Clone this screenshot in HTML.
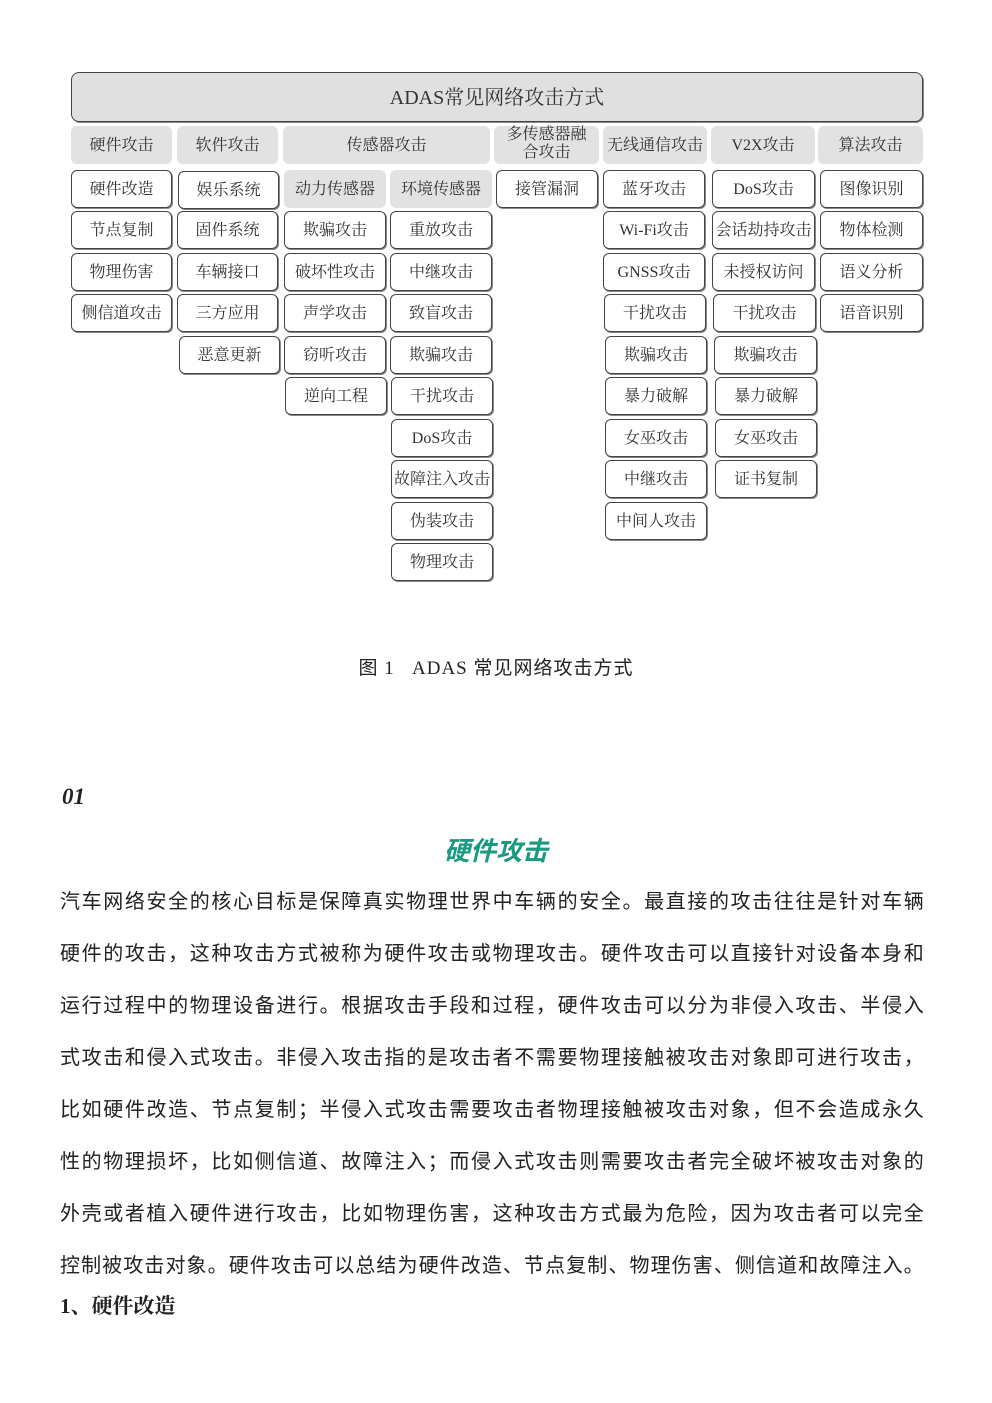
<!DOCTYPE html>
<html><head><meta charset="utf-8"><style>
body{margin:0;width:992px;height:1403px;background:#fff;position:relative;font-family:"Liberation Serif","Noto Serif CJK SC",serif;color:#333;overflow:hidden}
.n{position:absolute;box-sizing:border-box;height:38px;border:1.3px solid #444;border-radius:6px;background:#fff;font-size:16px;display:flex;align-items:center;justify-content:center;white-space:nowrap;color:#333;box-shadow:1px 1px 0 #888;padding-bottom:3px}
.g{background:#e2e2e2;border:none;box-shadow:none;border-radius:6px}
.t{position:absolute;left:60px;width:864px;font-family:"Liberation Sans","Noto Sans CJK SC",sans-serif;font-size:20px;text-align:justify;text-align-last:justify;white-space:nowrap;color:#222;letter-spacing:0.3px}
</style></head><body>
<div class="n" style="left:71px;top:72px;width:852px;height:50px;background:#e0e0e0;font-size:20px;border-radius:8px;padding-bottir:4px">ADAS常见网络攻击方式</div>
<div class="n g" style="left:71px;top:126px;width:101px">硬件攻击</div>
<div class="n g" style="left:177px;top:126px;width:101px">软件攻击</div>
<div class="n g" style="left:283px;top:126px;width:207px">传感器攻击</div>
<div class="n g" style="left:494px;top:126px;width:105px;line-height:18px;white-space:normal;text-align:center;padding:0 0 2px 0;flex-direction:column"><span>多传感器融</span><span>合攻击</span></div>
<div class="n g" style="left:603px;top:126px;width:104px">无线通信攻击</div>
<div class="n g" style="left:711px;top:126px;width:104px">V2X攻击</div>
<div class="n g" style="left:818px;top:126px;width:105px">算法攻击</div>

<div class="n" style="left:71px;top:170px;width:101px">硬件改造</div>
<div class="n" style="left:71px;top:211px;width:101px">节点复制</div>
<div class="n" style="left:71px;top:253px;width:101px">物理伤害</div>
<div class="n" style="left:71px;top:294px;width:101px">侧信道攻击</div>

<div class="n" style="left:178px;top:171px;width:101px">娱乐系统</div>
<div class="n" style="left:177px;top:211px;width:101px">固件系统</div>
<div class="n" style="left:177px;top:253px;width:101px">车辆接口</div>
<div class="n" style="left:177px;top:294px;width:101px">三方应用</div>
<div class="n" style="left:179px;top:336px;width:101px">恶意更新</div>

<div class="n g" style="left:284px;top:170px;width:102px">动力传感器</div>
<div class="n" style="left:284px;top:211px;width:102px">欺骗攻击</div>
<div class="n" style="left:284px;top:253px;width:102px">破坏性攻击</div>
<div class="n" style="left:284px;top:294px;width:102px">声学攻击</div>
<div class="n" style="left:284px;top:336px;width:102px">窃听攻击</div>
<div class="n" style="left:285px;top:377px;width:102px">逆向工程</div>

<div class="n g" style="left:390px;top:170px;width:102px">环境传感器</div>
<div class="n" style="left:390px;top:211px;width:102px">重放攻击</div>
<div class="n" style="left:390px;top:253px;width:102px">中继攻击</div>
<div class="n" style="left:390px;top:294px;width:102px">致盲攻击</div>
<div class="n" style="left:390px;top:336px;width:102px">欺骗攻击</div>
<div class="n" style="left:391px;top:377px;width:102px">干扰攻击</div>
<div class="n" style="left:391px;top:419px;width:102px">DoS攻击</div>
<div class="n" style="left:391px;top:460px;width:102px">故障注入攻击</div>
<div class="n" style="left:391px;top:502px;width:102px">伪装攻击</div>
<div class="n" style="left:391px;top:543px;width:102px">物理攻击</div>

<div class="n" style="left:496px;top:170px;width:102px">接管漏洞</div>

<div class="n" style="left:603px;top:170px;width:102px">蓝牙攻击</div>
<div class="n" style="left:603px;top:211px;width:102px">Wi-Fi攻击</div>
<div class="n" style="left:603px;top:253px;width:102px">GNSS攻击</div>
<div class="n" style="left:604px;top:294px;width:102px">干扰攻击</div>
<div class="n" style="left:605px;top:336px;width:102px">欺骗攻击</div>
<div class="n" style="left:605px;top:377px;width:102px">暴力破解</div>
<div class="n" style="left:605px;top:419px;width:102px">女巫攻击</div>
<div class="n" style="left:605px;top:460px;width:102px">中继攻击</div>
<div class="n" style="left:605px;top:502px;width:102px">中间人攻击</div>

<div class="n" style="left:712px;top:170px;width:103px">DoS攻击</div>
<div class="n" style="left:712px;top:211px;width:103px">会话劫持攻击</div>
<div class="n" style="left:712px;top:253px;width:103px">未授权访问</div>
<div class="n" style="left:713px;top:294px;width:103px">干扰攻击</div>
<div class="n" style="left:714px;top:336px;width:103px">欺骗攻击</div>
<div class="n" style="left:715px;top:377px;width:102px">暴力破解</div>
<div class="n" style="left:715px;top:419px;width:102px">女巫攻击</div>
<div class="n" style="left:715px;top:460px;width:102px">证书复制</div>

<div class="n" style="left:820px;top:170px;width:103px">图像识别</div>
<div class="n" style="left:820px;top:211px;width:103px">物体检测</div>
<div class="n" style="left:820px;top:253px;width:103px">语义分析</div>
<div class="n" style="left:820px;top:294px;width:103px">语音识别</div>

<div style="position:absolute;left:0;width:992px;top:653px;text-align:center;font-size:19px;color:#222;letter-spacing:1px;font-family:'Liberation Serif','Noto Sans CJK SC',serif">图 1&nbsp;&nbsp;&nbsp;ADAS 常见网络攻击方式</div>

<div style="position:absolute;left:62px;top:784px;font-size:23px;font-style:italic;font-weight:bold;color:#222">01</div>
<div style="position:absolute;left:0;width:992px;top:831px;text-align:center;font-family:'Liberation Sans','Noto Sans CJK SC',sans-serif;font-size:26px;font-weight:bold;font-style:italic;color:#1a9a80">硬件攻击</div>

<div class="t" style="top:885px">汽车网络安全的核心目标是保障真实物理世界中车辆的安全。最直接的攻击往往是针对车辆</div>
<div class="t" style="top:937px">硬件的攻击，这种攻击方式被称为硬件攻击或物理攻击。硬件攻击可以直接针对设备本身和</div>
<div class="t" style="top:989px">运行过程中的物理设备进行。根据攻击手段和过程，硬件攻击可以分为非侵入攻击、半侵入</div>
<div class="t" style="top:1041px">式攻击和侵入式攻击。非侵入攻击指的是攻击者不需要物理接触被攻击对象即可进行攻击，</div>
<div class="t" style="top:1093px">比如硬件改造、节点复制；半侵入式攻击需要攻击者物理接触被攻击对象，但不会造成永久</div>
<div class="t" style="top:1145px">性的物理损坏，比如侧信道、故障注入；而侵入式攻击则需要攻击者完全破坏被攻击对象的</div>
<div class="t" style="top:1197px">外壳或者植入硬件进行攻击，比如物理伤害，这种攻击方式最为危险，因为攻击者可以完全</div>
<div class="t" style="top:1249px">控制被攻击对象。硬件攻击可以总结为硬件改造、节点复制、物理伤害、侧信道和故障注入。</div>
<div style="position:absolute;left:60px;top:1290px;font-size:21px;font-weight:bold;color:#222">1、硬件改造</div>
</body></html>
